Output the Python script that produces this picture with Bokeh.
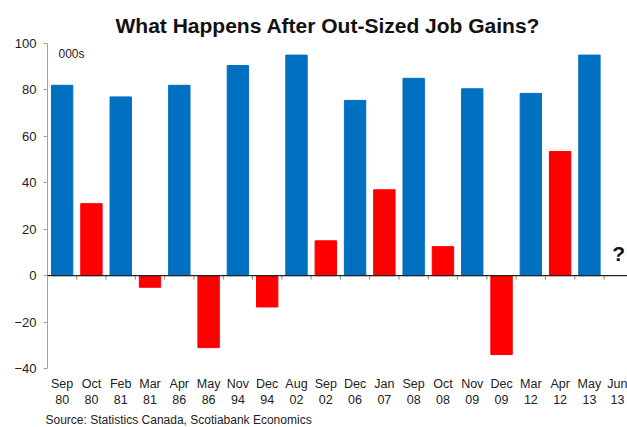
from bokeh.plotting import figure
from bokeh.models import ColumnDataSource, Span, Label, Title, FixedTicker
from bokeh.core.properties import value
from bokeh.embed import file_html
from bokeh.resources import INLINE

months = ["Sep", "Oct", "Feb", "Mar", "Apr", "May", "Nov", "Dec", "Aug", "Sep",
          "Dec", "Jan", "Sep", "Oct", "Nov", "Dec", "Mar", "Apr", "May", "Jun"]
years = ["80", "80", "81", "81", "86", "86", "94", "94", "02", "02",
         "06", "07", "08", "08", "09", "09", "12", "12", "13", "13"]
# 000s of jobs; None for the unknown month
job_change = [82, 31, 77, -5, 82, -31, 90.5, -13.5, 95, 15,
              75.5, 37, 85, 12.5, 80.5, -34, 78.5, 53.5, 95, None]
kind = ["gain", "after", "gain", "after", "gain", "after", "gain", "after", "gain", "after",
        "gain", "after", "gain", "after", "gain", "after", "gain", "after", "gain", "after"]
y_ticks = [-40, -20, 0, 20, 40, 60, 80, 100]

colors = {"gain": "#0070C0", "after": "#FF0000"}
idx = list(range(len(months)))
bar_x = [i for i, v in zip(idx, job_change) if v is not None]
bar_top = [v for v in job_change if v is not None]
bar_col = [colors[k] for k, v in zip(kind, job_change) if v is not None]
src = ColumnDataSource(dict(x=bar_x, top=bar_top, color=bar_col))

p = figure(width=627, height=427, output_backend="svg", toolbar_location=None,
           x_range=(-0.5, 19.3), y_range=(-40, 100),
           min_border_left=47, min_border_right=0, min_border_top=43, min_border_bottom=10)
p.title.text = "What Happens After Out-Sized Job Gains?"
p.title.text_font = "Liberation Sans"
p.title.text_font_size = "21px"
p.title.text_font_style = "bold"
p.title.text_color = "#111111"
p.title.align = "left"
p.title.offset = 68
p.title.standoff = 14

p.vbar(x="x", top="top", bottom=0, width=0.73, color="color", source=src)

# zero line and category boundary ticks
p.add_layout(Span(location=0, dimension="width", line_color="#222222", line_width=1.2))
bounds = [i - 0.5 for i in idx[1:]]
p.segment(x0=bounds, x1=bounds, y0=[0] * len(bounds), y1=[-1.7] * len(bounds),
          line_color="#888888", line_width=1)

# question mark for the unknown month
q_x = [i for i, v in zip(idx, job_change) if v is None]
p.text(x=q_x, y=[0] * len(q_x), text=["?"] * len(q_x), text_align="center",
       text_baseline="bottom", y_offset=-11, text_font=value("Liberation Sans"),
       text_font_size="21px", text_font_style="bold", text_color="#111111")

p.add_layout(Label(x=-0.5, y=100, x_offset=11, y_offset=-3, text="000s",
                   text_baseline="top", text_font="Liberation Sans",
                   text_font_size="12px", text_color="#222222"))

# axes
p.xgrid.visible = False
p.ygrid.visible = False
p.outline_line_color = None

p.yaxis.ticker = FixedTicker(ticks=y_ticks)
p.yaxis.axis_line_color = "#A0A0A0"
p.yaxis.major_tick_line_color = "#A0A0A0"
p.yaxis.major_tick_out = 4
p.yaxis.major_tick_in = 0
p.yaxis.minor_tick_line_color = None
p.yaxis.major_label_text_font = "Liberation Sans"
p.yaxis.major_label_text_font_size = "13px"
p.yaxis.major_label_text_color = "#222222"
p.yaxis.major_label_standoff = 7

p.xaxis.ticker = FixedTicker(ticks=idx)
p.xaxis.major_label_overrides = {i: f"{m}\n{y}" for i, m, y in zip(idx, months, years)}
p.xaxis.axis_line_color = None
p.xaxis.major_tick_line_color = None
p.xaxis.minor_tick_line_color = None
p.xaxis.major_label_text_font = "Liberation Sans"
p.xaxis.major_label_text_font_size = "12.5px"
p.xaxis.major_label_text_color = "#222222"
p.xaxis.major_label_standoff = 2

src_title = Title(text="Source: Statistics Canada, Scotiabank Economics", align="left",
                  text_font="Liberation Sans", text_font_size="12px",
                  text_font_style="normal", text_color="#222222", offset=-2, standoff=1)
p.add_layout(src_title, "below")

open("out.html", "w").write(file_html(p, INLINE))
